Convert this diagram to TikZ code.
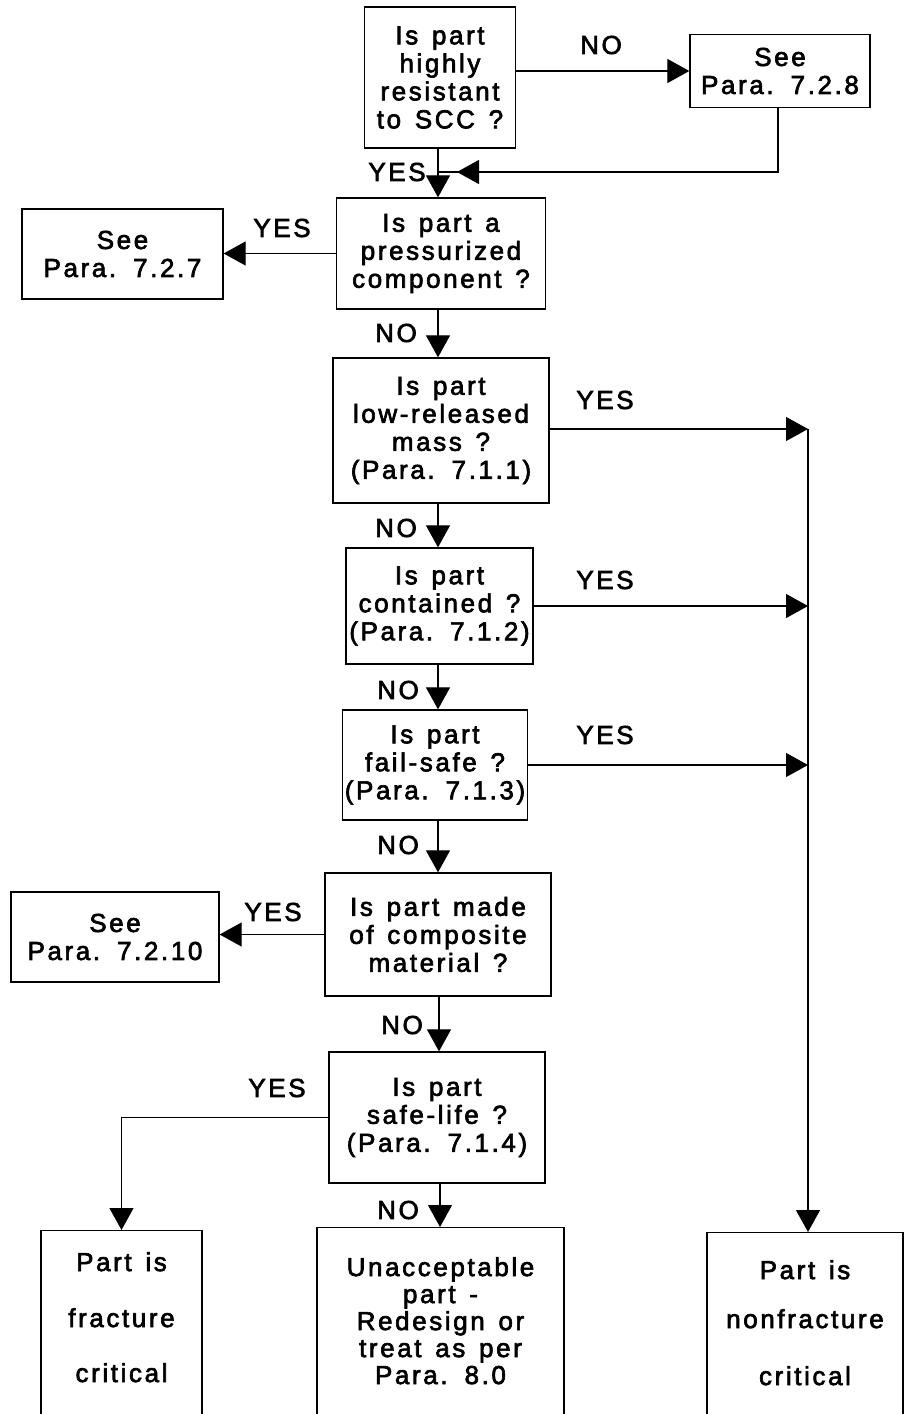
\documentclass[tikz,border=0pt]{standalone}
\usepackage{fontspec}
\setmainfont{Liberation Sans}[LetterSpace=10,FakeBold=2.5,WordSpace=1.4]
\usetikzlibrary{arrows.meta,calc}
\begin{document}
\begin{tikzpicture}[x=1pt,y=-1pt,
  lbl/.style={font=\fontsize{26}{28}\selectfont,inner sep=0pt},
  qbox/.style={draw,line width=1.3pt,align=center,inner sep=0pt,font=\fontsize{26}{28}\selectfont},
  con/.style={line width=1.2pt},
  arr/.style={con,-{Triangle[length=22pt,width=24pt]}}]
\path[use as bounding box] (0,0) rectangle (906,1414);

% question boxes
\node[qbox,minimum width=151pt,minimum height=141pt] (q1) at (440,77.5) {Is part\\highly\\resistant\\to SCC ?};
\node[qbox,minimum width=180pt,minimum height=73pt] (s728) at (780,71) {See\\Para. 7.2.8};
\node[qbox,minimum width=209pt,minimum height=111pt] (q2) at (441,253.5) {Is part a\\pressurized\\component ?};
\node[qbox,minimum width=201pt,minimum height=90pt] (s727) at (122.5,254) {See\\Para. 7.2.7};
\node[qbox,minimum width=216pt,minimum height=145pt] (q3) at (441,430.5) {Is part\\low-released\\mass ?\\(Para. 7.1.1)};
\node[qbox,minimum width=187pt,minimum height=116pt] (q4) at (439.5,606) {Is part\\contained ?\\(Para. 7.1.2)};
\node[qbox,minimum width=185pt,minimum height=110pt] (q5) at (435,765) {Is part\\fail-safe ?\\(Para. 7.1.3)};
\node[qbox,minimum width=226pt,minimum height=123pt] (q6) at (438,934.5) {Is part made\\of composite\\material ?};
\node[qbox,minimum width=208pt,minimum height=90pt] (s7210) at (115,937) {See\\Para. 7.2.10};
\node[qbox,minimum width=216pt,minimum height=131pt] (q7) at (437,1117.5) {Is part\\safe-life ?\\(Para. 7.1.4)};

% bottom boxes (open below the picture edge)
\node[qbox,minimum width=161pt,minimum height=240pt,anchor=north] (fc) at (121.5,1230) {};
\node[lbl,align=center,anchor=north] (fct) at ($(fc.north)+(0,22)$) {Part is\\[28pt]fracture\\[27pt]critical};
\node[qbox,minimum width=247pt,minimum height=240pt,anchor=north] (un) at (440.5,1227) {};
\node[lbl,align=center,anchor=north] (unt) at ($(un.north)+(0,30)$) {Unacceptable\\[-1pt]part -\\[-1pt]Redesign or\\[-1pt]treat as per\\[-1pt]Para. 8.0};
\node[qbox,minimum width=196pt,minimum height=240pt,anchor=north] (nf) at (805,1232) {};
\node[lbl,align=center,anchor=north] (nft) at ($(nf.north)+(0,28)$) {Part is\\[21pt]nonfracture\\[29pt]critical};

% spine coordinates
\coordinate (j1) at (438,172);
\coordinate (t0) at (808,429);

% connectors
\draw[arr] (q1.east |- s728.west) -- (s728.west);
\draw[con] (s728.south -| 778,0) |- (j1);
\draw[arr] ($(j1)+(45,0)$) -- ($(j1)+(19,0)$);
\draw[arr] (438,0 |- q1.south) -- (438,0 |- q2.north);
\draw[arr] (q2.west) -- (s727.east |- q2.west);
\draw[arr] (438,0 |- q2.south) -- (438,0 |- q3.north);
\draw[arr] (q3.east |- t0) -- (t0);
\draw[arr] (438,0 |- q3.south) -- (438,0 |- q4.north);
\draw[arr] (q4.east) -- (q4.east -| t0);
\draw[arr] (438,0 |- q4.south) -- (438,0 |- q5.north);
\draw[arr] (q5.east) -- (q5.east -| t0);
\draw[arr] (438,0 |- q5.south) -- (438,0 |- q6.north);
\draw[arr] (q6.west) -- (s7210.east |- q6.west);
\draw[arr] (439,0 |- q6.south) -- (439,0 |- q7.north);
\draw[arr] (q7.west) -| (fc.north);
\draw[arr] (440,0 |- q7.south) -- (440,0 |- un.north);
\draw[arr] (t0) -- (nf.north -| t0);

% branch labels
\node[lbl] (l1) at (601,45) {NO};
\node[lbl] (l2) at (397,172) {YES};
\node[lbl] (l3) at (282,228) {YES};
\node[lbl] (l4) at (396,333) {NO};
\node[lbl] (l5) at (605,400) {YES};
\node[lbl] (l6) at (396,528) {NO};
\node[lbl] (l7) at (605,580) {YES};
\node[lbl] (l8) at (398,690) {NO};
\node[lbl] (l9) at (605,735) {YES};
\node[lbl] (l10) at (398,845) {NO};
\node[lbl] (l11) at (273,912) {YES};
\node[lbl] (l12) at (402,1025) {NO};
\node[lbl] (l13) at (277,1088) {YES};
\node[lbl] (l14) at (398,1210) {NO};
\end{tikzpicture}
\end{document}
